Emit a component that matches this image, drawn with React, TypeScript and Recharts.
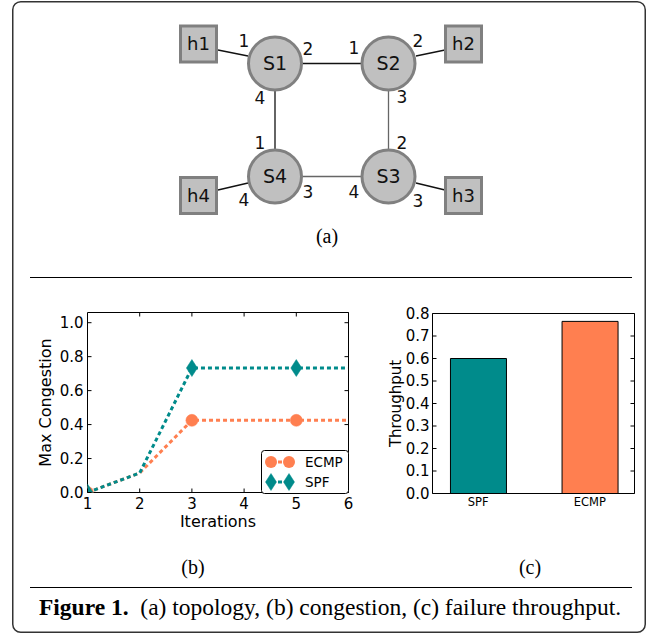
import React from 'react';
import { LineChart, Line, XAxis, YAxis, BarChart, Bar, Cell, Legend } from 'recharts';

// ---------- data ----------
const iterations = [1, 2, 3, 4, 5, 6];
const ecmpCongestion = [0, 0.115, 0.425, 0.425, 0.425, 0.425];
const spfCongestion = [0, 0.115, 0.733, 0.733, 0.733, 0.733];
const congestionTicks = [0, 0.2, 0.4, 0.6, 0.8, 1.0];

const methods = ['SPF', 'ECMP'];
const throughput = [0.6, 0.765];
const throughputTicks = [0, 0.1, 0.2, 0.3, 0.4, 0.5, 0.6, 0.7, 0.8];

const congestionData = iterations.map((it, i) => ({ iteration: it, ECMP: ecmpCongestion[i], SPF: spfCongestion[i] }));
const throughputData = methods.map((m, i) => ({ pos: i, method: m, throughput: throughput[i] }));

// ---------- styles ----------
const TEAL = '#008b8b';
const CORAL = '#ff7f50';
const FONT = '"DejaVu Sans", sans-serif';
const SERIF = '"Liberation Serif", "Times New Roman", serif';
const NODE_FILL = '#c0c0c0';
const NODE_STROKE = '#808080';

// ---------- topology layout ----------
const switchNodes = [
  { id: 'S1', x: 275, y: 63.5 },
  { id: 'S2', x: 388.5, y: 63.5 },
  { id: 'S4', x: 275, y: 176.5 },
  { id: 'S3', x: 388.5, y: 176.5 },
];
const hostNodes = [
  { id: 'h1', x: 198.5, y: 44 },
  { id: 'h2', x: 463.5, y: 44 },
  { id: 'h4', x: 198.5, y: 195.5 },
  { id: 'h3', x: 463.5, y: 195.5 },
];
const links = [
  { x1: 218, y1: 50, x2: 248, y2: 56, c: '#111' },
  { x1: 416, y1: 56, x2: 445, y2: 50, c: '#111' },
  { x1: 218, y1: 190, x2: 248, y2: 183, c: '#111' },
  { x1: 416, y1: 183, x2: 445, y2: 190, c: '#111' },
  { x1: 302, y1: 63.5, x2: 362, y2: 63.5, c: '#111' },
  { x1: 302, y1: 176.5, x2: 362, y2: 176.5, c: '#666' },
  { x1: 275, y1: 90, x2: 275, y2: 150, c: '#111' },
  { x1: 388.5, y1: 90, x2: 388.5, y2: 150, c: '#666' },
];
const portLabels = [
  { t: '1', x: 244, y: 41 }, { t: '2', x: 308, y: 49 }, { t: '4', x: 260, y: 98 },
  { t: '1', x: 354, y: 48 }, { t: '2', x: 418, y: 41 }, { t: '3', x: 402, y: 97 },
  { t: '1', x: 260, y: 143 }, { t: '3', x: 308, y: 192 }, { t: '4', x: 244, y: 200 },
  { t: '2', x: 402, y: 143 }, { t: '4', x: 354, y: 192 }, { t: '3', x: 418, y: 201 },
];

// ---------- ticks ----------
type TickOpts = { side: 'left' | 'right' | 'top' | 'bottom'; gap: number; len: number; fontSize?: number; fmt?: (v: any) => string };
const renderTick = (o: TickOpts) => (p: any) => {
  const { x, y, payload } = p;
  const v = payload.value;
  let line: any = null;
  let label: any = null;
  if (o.side === 'left') {
    const ax = x + o.gap;
    line = <line x1={ax} y1={y} x2={ax + o.len} y2={y} stroke="#000" strokeWidth={1} />;
    if (o.fmt) label = <text x={x} y={y} dy="0.36em" textAnchor="end" fontSize={o.fontSize} fill="#000" fontFamily={FONT}>{o.fmt(v)}</text>;
  } else if (o.side === 'right') {
    line = <line x1={x} y1={y} x2={x - o.len} y2={y} stroke="#000" strokeWidth={1} />;
  } else if (o.side === 'top') {
    line = <line x1={x} y1={y} x2={x} y2={y + o.len} stroke="#000" strokeWidth={1} />;
  } else {
    const ay = y - o.gap;
    if (o.len > 0) line = <line x1={x} y1={ay} x2={x} y2={ay - o.len} stroke="#000" strokeWidth={1} />;
    if (o.fmt) label = <text x={x} y={y} dy="0.73em" textAnchor="middle" fontSize={o.fontSize} fill="#000" fontFamily={FONT}>{o.fmt(v)}</text>;
  }
  return <g>{line}{label}</g>;
};

// ---------- markers ----------
const Diamond = ({ cx, cy, color }: any) => (
  <polygon points={`${cx},${cy - 8.5} ${cx + 5.5},${cy} ${cx},${cy + 8.5} ${cx - 5.5},${cy}`} fill={color} stroke={color} strokeWidth={0.5} />
);
const ecmpDot = (p: any) => {
  const { cx, cy, index } = p;
  if (index % 2 !== 0 || cx == null) return <g key={`e${index}`} />;
  return <circle key={`e${index}`} cx={cx} cy={cy} r={6} fill={CORAL} stroke={CORAL} strokeWidth={0.5} />;
};
const spfDot = (p: any) => {
  const { cx, cy, index } = p;
  if (index % 2 !== 0 || cx == null) return <g key={`s${index}`} />;
  return <Diamond key={`s${index}`} cx={cx} cy={cy} color={TEAL} />;
};

const DASH = '4 3';

const LegendBox = () => (
  <svg width={88} height={44} style={{ display: 'block', overflow: 'visible' }}>
    <rect x={0.5} y={0.5} width={87} height={43} rx={3} fill="#fff" stroke="#000" strokeWidth={1} />
    <line x1={10} y1={12} x2={28} y2={12} stroke={CORAL} strokeWidth={3} strokeDasharray={DASH} />
    <circle cx={10} cy={12} r={6} fill={CORAL} />
    <circle cx={28} cy={12} r={6} fill={CORAL} />
    <text x={44} y={12} dy="0.36em" fontSize={13.5} fontFamily={FONT} fill="#000">ECMP</text>
    <line x1={10} y1={32} x2={28} y2={32} stroke={TEAL} strokeWidth={3} strokeDasharray={DASH} />
    <Diamond cx={10} cy={32} color={TEAL} />
    <Diamond cx={28} cy={32} color={TEAL} />
    <text x={44} y={32} dy="0.36em" fontSize={13.5} fontFamily={FONT} fill="#000">SPF</text>
  </svg>
);

const Topology = () => (
  <g>
    {links.map((l, i) => (
      <line key={i} x1={l.x1} y1={l.y1} x2={l.x2} y2={l.y2} stroke={l.c} strokeWidth={1.3} />
    ))}
    {switchNodes.map((n) => (
      <g key={n.id}>
        <circle cx={n.x} cy={n.y} r={26.5} fill={NODE_FILL} stroke={NODE_STROKE} strokeWidth={3} />
        <text x={n.x} y={n.y} dy="0.36em" textAnchor="middle" fontSize={19} fontFamily={FONT} fill="#111">{n.id}</text>
      </g>
    ))}
    {hostNodes.map((n) => (
      <g key={n.id}>
        <rect x={n.x - 18} y={n.y - 18} width={36} height={36} fill={NODE_FILL} stroke={NODE_STROKE} strokeWidth={3} />
        <text x={n.x} y={n.y} dy="0.36em" textAnchor="middle" fontSize={18} fontFamily={FONT} fill="#111">{n.id}</text>
      </g>
    ))}
    {portLabels.map((p, i) => (
      <text key={i} x={p.x} y={p.y} dy="0.36em" textAnchor="middle" fontSize={17} fontFamily={FONT} fill="#111">{p.t}</text>
    ))}
  </g>
);

export default function App() {
  return (
    <div style={{ position: 'absolute', left: 0, top: 0, width: 656, height: 634, background: '#fff', fontFamily: FONT }}>
      <svg width={656} height={634} style={{ position: 'absolute', left: 0, top: 0 }}>
        <rect x={12.75} y={1.75} width={632.5} height={630.5} rx={8} fill="#fff" stroke="#333" strokeWidth={1.5} />
        <Topology />
        <text x={327} y={243} textAnchor="middle" fontSize={20} fontFamily={SERIF} fill="#000">(a)</text>
        <line x1={30} y1={277.5} x2={632} y2={277.5} stroke="#000" strokeWidth={1} />
        <text x={193} y={574} textAnchor="middle" fontSize={20} fontFamily={SERIF} fill="#000">(b)</text>
        <text x={530} y={574} textAnchor="middle" fontSize={20} fontFamily={SERIF} fill="#000">(c)</text>
        <line x1={30} y1={587.5} x2={632} y2={587.5} stroke="#000" strokeWidth={1} />
        <text x={330} y={615} textAnchor="middle" fontSize={23.5} fontFamily={SERIF} fill="#000">
          <tspan fontWeight="bold">Figure 1.</tspan>
          <tspan>{'\u00a0\u00a0(a) topology, (b) congestion, (c) failure throughput.'}</tspan>
        </text>
      </svg>

      <div style={{ position: 'absolute', left: 0, top: 290 }}>
        <LineChart width={360} height={250} data={congestionData} margin={{ top: 21.5, right: 10.5, bottom: 46.5, left: 27.5 }}>
          <XAxis xAxisId="b" dataKey="iteration" type="number" domain={[1, 6]} ticks={iterations} allowDataOverflow interval={0}
            height={1} tickSize={0} tickMargin={5.5} tickLine={false} axisLine={{ stroke: '#000' }}
            tick={renderTick({ side: 'bottom', gap: 5.5, len: 4, fontSize: 15, fmt: (v) => String(v) })}
            label={{ value: 'Iterations', position: 'bottom', offset: 22, fill: '#000', fontSize: 16, fontFamily: FONT }} />
          <XAxis xAxisId="t" orientation="top" type="number" domain={[1, 6]} ticks={iterations} allowDataOverflow interval={0}
            height={1} tickSize={0} tickMargin={0} tickLine={false} axisLine={{ stroke: '#000' }}
            tick={renderTick({ side: 'top', gap: 0, len: 4 })} />
          <YAxis yAxisId="l" type="number" domain={[0, 1.06]} ticks={congestionTicks} allowDataOverflow interval={0}
            width={60} tickSize={0} tickMargin={4} tickLine={false} axisLine={{ stroke: '#000' }}
            tick={renderTick({ side: 'left', gap: 4, len: 4, fontSize: 15, fmt: (v) => Number(v).toFixed(1) })}
            label={{ value: 'Max Congestion', angle: -90, position: 'insideLeft', offset: 18, fill: '#000', fontSize: 16, fontFamily: FONT, style: { textAnchor: 'middle' } }} />
          <YAxis yAxisId="r" orientation="right" type="number" domain={[0, 1.06]} ticks={congestionTicks} allowDataOverflow interval={0}
            width={1} tickSize={0} tickMargin={0} tickLine={false} axisLine={{ stroke: '#000' }}
            tick={renderTick({ side: 'right', gap: 0, len: 4 })} />
          <Line xAxisId="b" yAxisId="l" type="linear" dataKey="ECMP" name="ECMP" stroke={CORAL} strokeWidth={3} strokeDasharray={DASH}
            dot={ecmpDot} activeDot={false} isAnimationActive={false} />
          <Line xAxisId="b" yAxisId="l" type="linear" dataKey="SPF" name="SPF" stroke={TEAL} strokeWidth={3} strokeDasharray={DASH}
            dot={spfDot} activeDot={false} isAnimationActive={false} />
          <Legend layout="horizontal" verticalAlign="middle" align="center"
            wrapperStyle={{ left: 261, top: 160, width: 88, height: 44 }} content={() => <LegendBox />} />
        </LineChart>
      </div>

      <div style={{ position: 'absolute', left: 360, top: 290 }}>
        <BarChart width={290} height={250} data={throughputData} margin={{ top: 22.5, right: 14.5, bottom: 45.5, left: 12.5 }}>
          <XAxis xAxisId="b" dataKey="pos" type="number" domain={[-0.41, 1.4]} ticks={[0, 1]} allowDataOverflow interval={0}
            height={1} tickSize={0} tickMargin={4} tickLine={false} axisLine={{ stroke: '#000' }}
            tick={renderTick({ side: 'bottom', gap: 4, len: 0, fontSize: 11.5, fmt: (v) => methods[v] })} />
          <XAxis xAxisId="t" orientation="top" type="number" domain={[-0.41, 1.4]} ticks={[0, 1]} allowDataOverflow
            height={1} tick={false} tickLine={false} axisLine={{ stroke: '#000' }} />
          <YAxis yAxisId="l" type="number" domain={[0, 0.8]} ticks={throughputTicks} allowDataOverflow interval={0}
            width={60} tickSize={0} tickMargin={3} tickLine={false} axisLine={{ stroke: '#000' }}
            tick={renderTick({ side: 'left', gap: 3, len: 4, fontSize: 15, fmt: (v) => Number(v).toFixed(1) })}
            label={{ value: 'Throughput', angle: -90, position: 'insideLeft', offset: 23, fill: '#000', fontSize: 15, fontFamily: FONT, style: { textAnchor: 'middle' } }} />
          <YAxis yAxisId="r" orientation="right" type="number" domain={[0, 0.8]} ticks={throughputTicks} allowDataOverflow interval={0}
            width={1} tickSize={0} tickMargin={0} tickLine={false} axisLine={{ stroke: '#000' }}
            tick={renderTick({ side: 'right', gap: 0, len: 4 })} />
          <Bar xAxisId="b" yAxisId="l" dataKey="throughput" barSize={56} isAnimationActive={false}>
            {throughputData.map((d, i) => (
              <Cell key={d.method} fill={i === 0 ? TEAL : CORAL} stroke="#000" strokeWidth={1} />
            ))}
          </Bar>
        </BarChart>
      </div>
    </div>
  );
}
